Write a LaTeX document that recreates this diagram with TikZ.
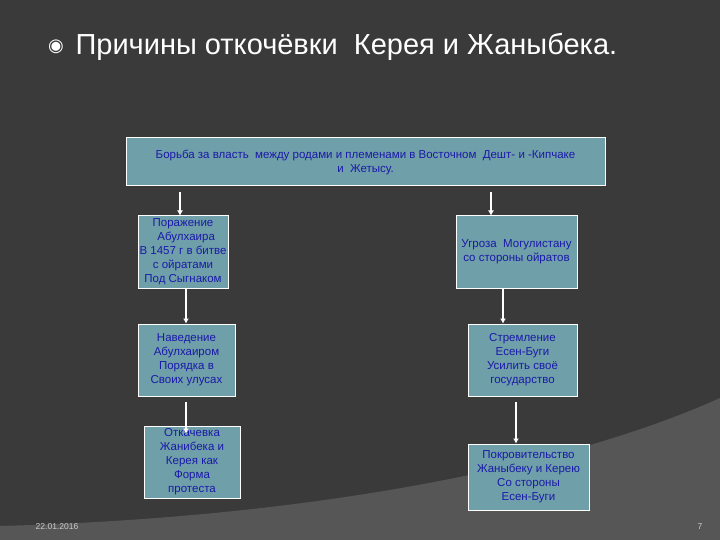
\documentclass[tikz,border=0pt]{standalone}
\usepackage{fontspec}
\usetikzlibrary{arrows.meta}
\setmainfont{Liberation Sans}
\newfontfamily\dejavu{DejaVu Sans}
\begin{document}
\begin{tikzpicture}[x=1pt,y=-1pt,
  box/.style={draw=white,line width=1pt,fill=boxc,text=txtc,font=\fontsize{11.5}{14}\selectfont,align=center,inner sep=1pt},
  arr/.style={draw=white,line width=1.5pt,-{Latex[length=5pt,width=6pt]}}]
\definecolor{bgc}{HTML}{3A3A3A}
\definecolor{bandc}{HTML}{565656}
\definecolor{boxc}{HTML}{6F9FA9}
\definecolor{txtc}{HTML}{1A1AA8}
\useasboundingbox (0,0) rectangle (720,540);
\fill[bgc] (0,0) rectangle (720,540);
\fill[bandc] (0,526) .. controls (300,518) and (560,470) .. (720,398) -- (720,540) -- (0,540) -- cycle;
\node[text=white,font=\dejavu\fontsize{18}{20}\selectfont] (bul) at (56,47) {◉};
\node[text=white,font=\fontsize{29}{32}\selectfont,anchor=west] (title) at (72,47) {Причины откочёвки\ \ Керея и Жаныбека.};
\node[box,minimum width=479pt,minimum height=48pt] (top) at (365.5,162) {Борьба за власть\ \ между родами и племенами в Восточном\ \ Дешт- и -Кипчаке\\и\ \ Жетысу.};
\node[box,minimum width=90pt,minimum height=72pt] (l1) at (183,252) {Поражение\\\ \ Абулхаира\\В 1457 г в битве\\с ойратами\\Под Сыгнаком};
\node[box,minimum width=121pt,minimum height=72pt] (r1) at (516.5,252) {Угроза\ \ Могулистану\\со стороны ойратов};
\node[box,minimum width=97pt,minimum height=72pt] (l2) at (186.5,360) {Наведение\\Абулхаиром\\Порядка в\\Своих улусах};
\node[box,minimum width=109pt,minimum height=72pt] (r2) at (522.5,360) {Стремление\\Есен-Буги\\Усилить своё\\государство};
\node[box,minimum width=96pt,minimum height=72pt] (l3) at (192,462) {Откачевка\\Жанибека и\\Керея как\\Форма\\протеста};
\node[box,minimum width=121pt,minimum height=66pt] (r3) at (528.5,477) {Покровительство\\Жаныбеку и Керею\\Со стороны\\Есен-Буги};
\node[text=white!80!black,font=\fontsize{8.5}{9}\selectfont] (date) at (57,527) {22.01.2016};
\node[text=white!80!black,font=\fontsize{8.5}{9}\selectfont] (pg) at (700,527) {7};
\coordinate (a1) at (180,192); \coordinate (a2) at (491,192);
\coordinate (a3) at (186,402); \coordinate (a4) at (516,402);
\coordinate (a5) at (186,288); \coordinate (a6) at (503,288);
\draw[arr] (a1) -- (a1 |- l1.north);
\draw[arr] (a2) -- (a2 |- r1.north);
\draw[arr] (a5) -- (a5 |- l2.north);
\draw[arr] (a6) -- (a6 |- r2.north);
\draw[arr] (a3) -- ([yshift=-8pt]a3 |- l3.north);
\draw[arr] (a4) -- (a4 |- r3.north);
\end{tikzpicture}
\end{document}
